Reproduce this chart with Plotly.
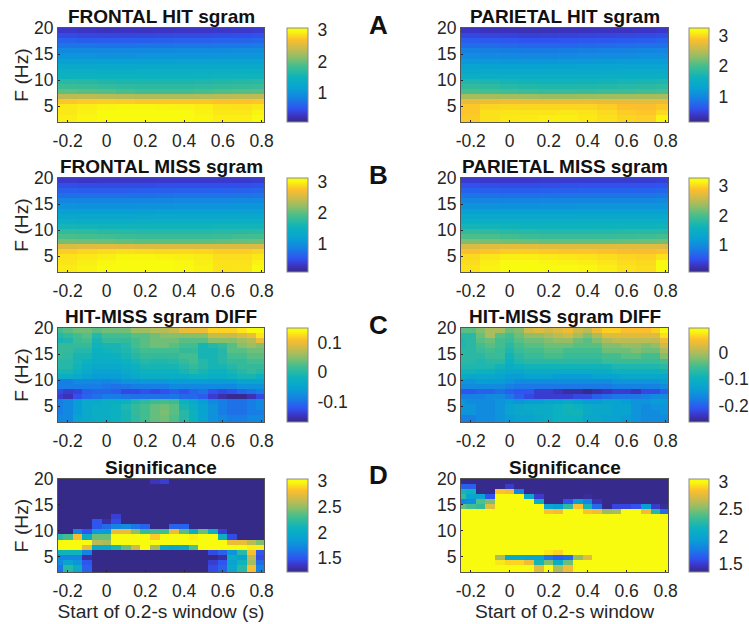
import plotly.graph_objects as go

TIMES = [-0.25,-0.2,-0.15,-0.1,-0.05,0,0.05,0.1,0.15,0.2,0.25,0.3,0.35,0.4,0.45,0.5,0.55,0.6,0.65,0.7,0.75,0.8]
COARSE = [-0.2,-0.1,0,0.1,0.2,0.3,0.4,0.5,0.6,0.7,0.8]
FREQS = [19.53,18.55,17.58,16.6,15.63,14.65,13.67,12.7,11.72,10.74,9.77,8.79,7.81,6.84,5.86,4.88,3.91,2.93,1.95]
X_TICKS = [-0.2,0,0.2,0.4,0.6,0.8]
X_LABELS = ["-0.2","0","0.2","0.4","0.6","0.8"]
Y_TICKS = [5,10,15,20]

FRONTAL_HIT = [
[.33,.31,.29,.3,.3,.31,.32,.32,.33,.34,.36],
[.46,.44,.43,.43,.44,.45,.46,.46,.47,.48,.5],
[.62,.6,.59,.59,.6,.61,.62,.62,.63,.64,.66],
[.76,.75,.74,.74,.75,.76,.77,.77,.78,.79,.8],
[.92,.91,.9,.9,.91,.92,.93,.93,.94,.95,.96],
[1.03,1.02,1.01,1.01,1.02,1.03,1.04,1.04,1.05,1.05,1.06],
[1.17,1.16,1.15,1.15,1.16,1.17,1.18,1.18,1.18,1.19,1.19],
[1.3,1.29,1.28,1.28,1.29,1.3,1.3,1.3,1.3,1.31,1.31],
[1.41,1.4,1.39,1.39,1.4,1.4,1.4,1.4,1.41,1.42,1.42],
[1.5,1.49,1.48,1.48,1.48,1.49,1.49,1.5,1.51,1.52,1.52],
[1.68,1.66,1.63,1.6,1.6,1.6,1.6,1.62,1.64,1.66,1.68],
[1.8,1.78,1.75,1.72,1.7,1.7,1.7,1.72,1.74,1.76,1.78],
[1.97,1.95,1.92,1.88,1.85,1.85,1.85,1.87,1.9,1.92,1.94],
[2.35,2.35,2.33,2.3,2.28,2.28,2.28,2.3,2.33,2.35,2.35],
[2.72,2.74,2.75,2.74,2.72,2.72,2.72,2.72,2.7,2.7,2.72],
[2.88,2.9,2.93,2.94,2.94,2.93,2.92,2.9,2.85,2.84,2.88],
[2.88,2.92,2.97,3.0,3.0,2.99,2.96,2.92,2.88,2.88,2.93],
[2.9,2.94,2.98,3.02,3.04,3.02,2.98,2.94,2.9,2.9,2.96],
[2.9,2.94,2.98,3.02,3.04,3.02,2.98,2.94,2.9,2.9,2.96]]

PARIETAL_HIT = [
[.38,.36,.34,.33,.34,.35,.36,.37,.37,.38,.4],
[.52,.5,.48,.46,.47,.48,.49,.5,.51,.53,.55],
[.67,.65,.63,.6,.6,.61,.63,.64,.66,.68,.7],
[.79,.78,.76,.74,.74,.75,.77,.78,.8,.82,.83],
[.93,.92,.9,.89,.89,.9,.92,.93,.95,.97,.98],
[1.05,1.04,1.03,1.02,1.02,1.03,1.05,1.06,1.07,1.09,1.09],
[1.18,1.17,1.16,1.16,1.16,1.17,1.18,1.19,1.2,1.21,1.21],
[1.32,1.31,1.3,1.3,1.3,1.31,1.32,1.32,1.33,1.33,1.33],
[1.43,1.42,1.41,1.41,1.42,1.42,1.42,1.43,1.44,1.44,1.45],
[1.54,1.54,1.53,1.52,1.52,1.52,1.53,1.54,1.55,1.56,1.56],
[1.74,1.72,1.68,1.65,1.64,1.64,1.65,1.66,1.68,1.7,1.72],
[1.88,1.85,1.8,1.77,1.76,1.76,1.76,1.78,1.8,1.82,1.84],
[2.03,2.0,1.97,1.94,1.92,1.92,1.93,1.94,1.96,1.98,2.0],
[2.42,2.42,2.4,2.38,2.36,2.36,2.37,2.38,2.4,2.42,2.42],
[2.75,2.78,2.8,2.78,2.78,2.78,2.78,2.76,2.73,2.72,2.76],
[2.9,2.97,2.99,2.98,2.98,2.97,2.97,2.94,2.87,2.85,2.9],
[2.9,3.03,3.05,3.05,3.05,3.07,3.05,3.0,2.94,2.9,3.0],
[2.93,3.03,3.07,3.08,3.1,3.1,3.07,3.03,2.98,2.95,3.13],
[2.93,3.03,3.07,3.08,3.1,3.1,3.07,3.03,2.98,2.95,3.13]]

FRONTAL_MISS = [
[.32,.3,.31,.31,.31,.32,.33,.33,.33,.33,.35],
[.46,.44,.44,.44,.45,.46,.47,.47,.47,.47,.49],
[.6,.58,.58,.58,.59,.6,.61,.61,.61,.61,.63],
[.72,.71,.71,.71,.72,.73,.74,.74,.74,.75,.76],
[.88,.87,.87,.87,.88,.89,.9,.9,.9,.91,.92],
[1.01,1.0,1.0,1.0,1.01,1.02,1.03,1.03,1.03,1.04,1.05],
[1.15,1.14,1.14,1.14,1.15,1.16,1.16,1.16,1.16,1.17,1.17],
[1.29,1.28,1.28,1.28,1.29,1.3,1.3,1.3,1.3,1.3,1.3],
[1.42,1.41,1.41,1.41,1.42,1.42,1.42,1.42,1.42,1.42,1.42],
[1.56,1.55,1.54,1.54,1.54,1.54,1.54,1.54,1.55,1.55,1.55],
[1.76,1.74,1.72,1.7,1.69,1.68,1.68,1.68,1.7,1.72,1.73],
[1.92,1.9,1.87,1.84,1.82,1.82,1.82,1.82,1.84,1.87,1.88],
[2.1,2.08,2.06,2.03,2.0,2.0,2.0,2.0,2.02,2.04,2.06],
[2.56,2.58,2.6,2.58,2.56,2.56,2.56,2.56,2.56,2.56,2.55],
[2.82,2.85,2.88,2.9,2.88,2.87,2.87,2.85,2.82,2.82,2.85],
[2.92,2.95,2.98,3.02,3.02,3.0,2.98,2.96,2.9,2.9,2.95],
[2.94,2.98,3.02,3.08,3.08,3.05,3.02,2.98,2.92,2.92,3.0],
[2.96,3.0,3.04,3.1,3.1,3.07,3.03,3.0,2.92,2.94,3.06],
[2.96,3.0,3.04,3.1,3.1,3.07,3.03,3.0,2.92,2.94,3.06]]

PARIETAL_MISS = [
[.38,.36,.36,.36,.37,.38,.39,.39,.39,.39,.41],
[.53,.51,.5,.5,.51,.52,.53,.53,.53,.53,.55],
[.66,.64,.63,.63,.64,.65,.66,.66,.66,.66,.68],
[.8,.78,.77,.77,.78,.79,.8,.8,.8,.8,.82],
[.95,.94,.93,.93,.94,.95,.96,.96,.96,.96,.98],
[1.08,1.07,1.06,1.06,1.07,1.08,1.09,1.09,1.09,1.09,1.1],
[1.24,1.23,1.22,1.22,1.22,1.23,1.24,1.24,1.24,1.24,1.24],
[1.38,1.37,1.37,1.38,1.38,1.38,1.38,1.38,1.38,1.38,1.38],
[1.52,1.51,1.5,1.5,1.5,1.5,1.5,1.5,1.5,1.5,1.5],
[1.64,1.63,1.62,1.6,1.6,1.58,1.58,1.6,1.6,1.6,1.62],
[1.86,1.84,1.8,1.78,1.76,1.76,1.76,1.76,1.78,1.78,1.8],
[2.02,2.0,1.96,1.92,1.9,1.9,1.9,1.9,1.92,1.94,1.96],
[2.22,2.2,2.18,2.15,2.12,2.12,2.12,2.12,2.14,2.16,2.18],
[2.66,2.7,2.72,2.72,2.7,2.7,2.7,2.7,2.7,2.7,2.68],
[2.86,2.9,2.94,2.94,2.92,2.9,2.9,2.88,2.84,2.84,2.88],
[3.0,3.06,3.1,3.1,3.08,3.06,3.04,3.02,2.98,2.96,3.04],
[3.02,3.1,3.16,3.16,3.14,3.12,3.1,3.06,3.02,3.0,3.16],
[3.04,3.12,3.18,3.2,3.18,3.16,3.14,3.1,3.04,3.02,3.24],
[3.04,3.12,3.18,3.2,3.18,3.16,3.14,3.1,3.04,3.02,3.24]]

FRONTAL_DIFF = [
[.02,.03,.04,.04,.03,.04,.04,.04,.06,.06,.07,.07,.08,.1,.1,.1,.12,.12,.12,.13,.15,.15],
[.0,.01,.02,.03,.0,.02,.02,.02,.03,.03,.04,.05,.05,.05,.05,.05,.08,.08,.08,.09,.1,.13],
[-.01,-.005,.015,.02,-.01,.01,.01,.01,.02,.03,.04,.04,.04,.03,.03,.03,.05,.05,.05,.06,.07,.1],
[.01,.01,.01,.01,-.015,-.01,-.01,.0,.02,.03,.04,.04,.03,.02,.02,-.01,.0,.01,.03,.05,.06,.05],
[.01,.01,.0,.0,-.02,-.015,-.01,-.005,.01,.02,.02,.02,.02,.01,.01,-.01,-.01,.0,.03,.03,.04,.04],
[.01,.005,-.01,-.01,-.025,-.025,-.02,-.01,.0,.01,.01,.01,.01,.02,.02,-.01,-.01,.0,.02,.02,.03,.03],
[.0,.0,-.01,-.02,-.03,-.03,-.03,-.02,-.01,.0,-.005,-.005,.0,.01,.02,.0,-.01,.0,.01,.01,.02,.02],
[.0,.0,-.015,-.03,-.04,-.04,-.04,-.03,-.02,-.01,-.01,-.01,-.01,.0,.01,.0,-.01,-.01,.0,.01,.01,.01],
[-.01,-.01,-.02,-.04,-.05,-.05,-.05,-.04,-.03,-.02,-.02,-.02,-.02,-.01,.0,-.01,-.02,-.02,-.01,.0,.01,.0],
[-.03,-.03,-.04,-.05,-.06,-.06,-.06,-.05,-.04,-.03,-.03,-.03,-.03,-.03,-.02,-.02,-.03,-.03,-.02,-.01,-.01,-.02],
[-.09,-.09,-.08,-.08,-.08,-.085,-.08,-.07,-.07,-.065,-.065,-.065,-.06,-.06,-.06,-.06,-.06,-.06,-.06,-.05,-.05,-.05],
[-.09,-.09,-.09,-.09,-.09,-.095,-.1,-.095,-.09,-.09,-.09,-.09,-.08,-.08,-.08,-.08,-.08,-.08,-.08,-.07,-.07,-.07],
[-.13,-.14,-.135,-.115,-.11,-.11,-.115,-.13,-.13,-.125,-.13,-.125,-.115,-.125,-.11,-.1,-.125,-.13,-.125,-.11,-.1,-.09],
[-.14,-.15,-.125,-.11,-.1,-.09,-.09,-.095,-.1,-.1,-.1,-.1,-.095,-.105,-.105,-.115,-.14,-.155,-.165,-.165,-.15,-.13],
[-.09,-.08,-.06,-.04,-.04,-.03,-.03,-.02,-.005,.005,.015,.02,.015,-.02,-.04,-.06,-.08,-.09,-.1,-.1,-.09,-.08],
[-.09,-.08,-.06,-.04,-.03,-.03,-.02,-.005,.01,.02,.035,.04,.03,-.01,-.03,-.05,-.07,-.09,-.1,-.1,-.09,-.08],
[-.09,-.08,-.06,-.04,-.03,-.03,-.02,-.01,.01,.02,.035,.045,.03,.0,-.02,-.05,-.07,-.09,-.1,-.1,-.09,-.09],
[-.08,-.08,-.05,-.04,-.03,-.03,-.02,-.01,.005,.02,.035,.04,.025,.0,-.02,-.05,-.07,-.08,-.09,-.09,-.08,-.08],
[-.08,-.08,-.05,-.04,-.03,-.03,-.02,-.01,.005,.02,.035,.04,.025,.0,-.02,-.05,-.07,-.08,-.09,-.09,-.08,-.08]]

PARIETAL_DIFF = [
[-.04,-.04,-.02,.0,.0,-.03,-.02,.02,.03,.02,.03,.04,.02,.01,.04,.06,.06,.05,.05,.05,.06,.09],
[-.07,-.07,-.03,.0,-.04,-.05,-.03,-.01,-.01,.0,.01,.02,.0,-.02,.0,.03,.03,.03,.03,.03,.03,.07],
[-.08,-.07,-.04,-.03,-.05,-.06,-.04,-.03,-.03,-.02,-.01,-.01,-.03,-.04,-.02,.0,.01,.01,.01,.01,.01,.04],
[-.08,-.07,-.05,-.04,-.05,-.07,-.05,-.04,-.04,-.03,-.03,-.03,-.04,-.04,-.04,-.02,-.02,-.01,-.01,-.02,-.01,.02],
[-.07,-.07,-.06,-.05,-.06,-.08,-.06,-.05,-.05,-.04,-.04,-.05,-.05,-.05,-.05,-.03,-.03,-.03,-.02,-.03,-.03,.0],
[-.07,-.07,-.07,-.06,-.06,-.09,-.07,-.06,-.06,-.05,-.05,-.06,-.06,-.06,-.06,-.05,-.05,-.04,-.04,-.05,-.05,-.02],
[-.07,-.07,-.08,-.07,-.07,-.1,-.08,-.07,-.07,-.07,-.07,-.07,-.07,-.07,-.07,-.06,-.06,-.06,-.06,-.06,-.06,-.05],
[-.08,-.08,-.08,-.08,-.09,-.11,-.1,-.09,-.09,-.09,-.09,-.09,-.09,-.09,-.09,-.09,-.08,-.08,-.08,-.08,-.08,-.07],
[-.09,-.09,-.1,-.1,-.11,-.12,-.12,-.11,-.11,-.11,-.11,-.11,-.11,-.11,-.11,-.11,-.1,-.1,-.1,-.1,-.1,-.09],
[-.11,-.12,-.12,-.12,-.13,-.14,-.14,-.13,-.13,-.13,-.14,-.14,-.14,-.14,-.13,-.13,-.13,-.12,-.12,-.12,-.12,-.12],
[-.15,-.15,-.14,-.14,-.14,-.15,-.16,-.16,-.16,-.16,-.16,-.16,-.16,-.16,-.16,-.16,-.15,-.15,-.15,-.15,-.15,-.14],
[-.16,-.16,-.16,-.16,-.16,-.17,-.18,-.18,-.18,-.18,-.18,-.18,-.18,-.18,-.18,-.18,-.17,-.17,-.17,-.17,-.17,-.16],
[-.21,-.21,-.2,-.2,-.19,-.2,-.21,-.21,-.23,-.23,-.24,-.25,-.25,-.26,-.25,-.24,-.23,-.23,-.24,-.22,-.22,-.2],
[-.17,-.17,-.17,-.16,-.16,-.18,-.2,-.22,-.23,-.23,-.23,-.23,-.22,-.22,-.2,-.19,-.18,-.18,-.18,-.17,-.16,-.16],
[-.15,-.16,-.16,-.16,-.15,-.14,-.15,-.14,-.14,-.13,-.13,-.12,-.13,-.14,-.14,-.13,-.13,-.14,-.15,-.15,-.14,-.14],
[-.15,-.15,-.16,-.16,-.15,-.13,-.12,-.11,-.11,-.11,-.1,-.09,-.1,-.11,-.12,-.12,-.13,-.13,-.15,-.16,-.15,-.15],
[-.15,-.15,-.16,-.16,-.15,-.13,-.12,-.12,-.11,-.11,-.1,-.09,-.09,-.11,-.12,-.12,-.13,-.13,-.15,-.16,-.16,-.15],
[-.17,-.17,-.16,-.16,-.15,-.14,-.13,-.13,-.12,-.11,-.1,-.1,-.1,-.12,-.12,-.13,-.13,-.14,-.15,-.16,-.16,-.16],
[-.17,-.17,-.16,-.16,-.15,-.14,-.13,-.13,-.12,-.11,-.1,-.1,-.1,-.12,-.12,-.13,-.13,-.14,-.15,-.16,-.16,-.16]]

FRONTAL_SIG = [
[1.23,1.23,1.23,1.23,1.23,1.23,1.23,1.23,1.23,1.23,1.35,1.4,1.23,1.23,1.23,1.23,1.23,1.23,1.23,1.23,1.23,1.23],
[1.23]*22,[1.23]*22,[1.23]*22,[1.23]*22,[1.23]*22,[1.23]*22,
[1.23,1.23,1.23,1.23,1.23,1.23,1.4,1.23,1.23,1.23,1.23,1.23,1.23,1.23,1.23,1.23,1.23,1.23,1.23,1.23,1.23,1.23],
[1.23,1.23,1.23,1.23,1.5,1.3,1.45,1.23,1.23,1.23,1.23,1.23,1.23,1.23,1.23,1.23,1.23,1.23,1.23,1.23,1.23,1.23],
[1.23,1.23,1.23,1.23,1.5,1.6,1.7,1.75,1.65,1.55,1.23,1.23,1.55,1.55,1.23,1.23,1.23,1.23,1.23,1.23,1.23,1.23],
[1.23,1.23,1.7,1.5,1.85,1.85,2.75,2.75,2.5,2.25,2.3,2.3,2.75,2.35,2.05,2.4,2.05,1.4,1.23,1.23,1.23,1.23],
[2.2,2.3,2.8,2.0,2.4,2.4,3,3,3,3,2.85,3,3,3,2.95,3,3,2.05,1.45,1.23,1.23,1.23],
[3,3,3,3,2.6,2.55,3,3,3,3,3,3,3,3,3,3,3,3,2.75,2.75,2.6,2.45],
[3,3,3,2.75,2.0,2.0,2.15,2.4,2.65,3,2.55,2.0,1.95,2.0,2.35,3,3,3,3,3,2.95,2.95],
[2.1,2.1,2.1,1.7,1.23,1.23,1.23,1.23,1.23,1.23,1.23,1.23,1.23,1.23,1.23,1.23,1.45,1.55,1.8,2.2,2.8,1.5],
[1.7,1.7,1.7,1.3,1.23,1.23,1.23,1.23,1.23,1.23,1.23,1.23,1.23,1.23,1.23,1.23,1.23,1.3,2.0,1.9,2.6,1.45],
[1.75,1.9,1.8,1.5,1.23,1.23,1.23,1.23,1.23,1.23,1.23,1.23,1.23,1.23,1.23,1.23,1.4,1.5,1.9,2.1,2.55,1.6],
[1.65,2.2,2.0,1.55,1.23,1.23,1.23,1.23,1.23,1.23,1.23,1.23,1.23,1.23,1.23,1.23,1.45,1.55,1.95,2.2,2.8,1.7],
[1.6,2.2,2.0,1.55,1.23,1.23,1.23,1.23,1.23,1.23,1.23,1.23,1.23,1.23,1.23,1.23,1.45,1.55,1.95,2.2,2.8,1.7]]

PARIETAL_SIG = [
[1.37]*22,
[1.65,1.65,1.37,1.37,1.37,1.5,1.37,1.37,1.37,1.37,1.37,1.37,1.37,1.37,1.37,1.37,1.37,1.37,1.37,1.37,1.37,1.37],
[2.2,2.15,1.37,1.37,2.85,2.8,1.8,1.37,1.37,1.37,1.37,1.37,1.37,1.37,1.37,1.37,1.37,1.37,1.37,1.37,1.37,1.37],
[2.3,2.0,2.0,1.6,3,3,3,2.05,1.5,1.37,1.37,1.37,1.37,1.4,1.37,1.37,1.37,1.37,1.37,1.37,1.37,1.37],
[1.8,1.85,2.4,2.5,3,3,3,3,2.1,1.37,1.37,1.6,1.95,1.8,1.45,1.37,1.37,1.37,1.37,1.37,1.37,1.37],
[2.45,2.35,2.3,2.75,3,3,3,3,3,2.0,1.95,2.3,2.85,2.2,1.7,1.37,1.55,1.55,1.6,1.95,1.5,1.4],
[3,3,3,3,3,3,3,3,3,2.85,2.8,3,3,2.85,2.8,2.55,2.6,3,3,2.8,2.25,1.7],
[3]*22,[3]*22,[3]*22,[3]*22,[3]*22,[3]*22,[3]*22,
[3,3,3,3,3,3,3,3,3,2.95,2.9,3,3,3,3,3,3,3,3,3,3,3],
[3,3,3,3,2.6,2.05,2.05,2.0,2.0,1.75,1.65,1.7,2.55,2.75,3,3,3,3,3,3,3,3],
[3,3,3,3,2.95,2.9,2.9,2.8,2.2,2.5,2.1,2.45,3,3,3,3,3,3,3,3,3,3],
[3,3,3,3,3,3,3,3,2.75,3,2.6,2.8,3,3,3,3,3,3,3,3,3,3],
[3,3,3,3,3,3,3,3,2.75,3,2.6,2.8,3,3,3,3,3,3,3,3,3,3]]

PARULA = [[0,"rgb(53,42,135)"],[.07,"rgb(60,52,195)"],[.14,"rgb(48,82,240)"],[.25,"rgb(22,128,228)"],
          [.35,"rgb(8,160,212)"],[.47,"rgb(12,178,190)"],[.6,"rgb(70,190,140)"],[.69,"rgb(140,190,105)"],
          [.77,"rgb(195,187,80)"],[.875,"rgb(253,190,45)"],[.97,"rgb(249,251,14)"],[1,"rgb(249,251,14)"]]

W, H = 749, 624
ROWS = [(28,122),(178,272),(328,422),(479,572)]
COLS = [(58,264,287,21),(461,668,689,20)]
INK = "#262626"
FONT = "Liberation Sans"

panels = [
 ("FRONTAL HIT sgram",FRONTAL_HIT,COARSE,.1,3.05,[1,2,3],["1","2","3"],0,0),
 ("PARIETAL HIT sgram",PARIETAL_HIT,COARSE,.16,3.25,[1,2,3],["1","2","3"],0,1),
 ("FRONTAL MISS sgram",FRONTAL_MISS,COARSE,.07,3.13,[1,2,3],["1","2","3"],1,0),
 ("PARIETAL MISS sgram",PARIETAL_MISS,COARSE,.1,3.26,[1,2,3],["1","2","3"],1,1),
 ("HIT-MISS sgram DIFF",FRONTAL_DIFF,TIMES,-.168,.15,[-.1,0,.1],["-0.1","0","0.1"],2,0),
 ("HIT-MISS sgram DIFF",PARIETAL_DIFF,TIMES,-.262,.095,[-.2,-.1,0],["-0.2","-0.1","0"],2,1),
 ("Significance",FRONTAL_SIG,TIMES,1.23,3.04,[1.5,2,2.5,3],["1.5","2","2.5","3"],3,0),
 ("Significance",PARIETAL_SIG,TIMES,1.36,3.05,[1.5,2,2.5,3],["1.5","2","2.5","3"],3,1),
]

fig = go.Figure()
layout = {}
notes = []
for n,(title,z,xs,zmin,zmax,ct,cl,r,c) in enumerate(panels):
    top,bot = ROWS[r]
    x0,x1,cbx,cbw = COLS[c]
    suffix = "" if n == 0 else str(n+1)
    dom_y = [1-bot/H, 1-top/H]
    fig.add_trace(go.Heatmap(z=z,x=xs,y=FREQS,zmin=zmin,zmax=zmax,colorscale=PARULA,
        xaxis="x"+suffix,yaxis="y"+suffix,hoverinfo="skip",
        colorbar=dict(x=cbx/W,xanchor="left",xpad=0,ypad=0,y=dom_y[0],yanchor="bottom",
            len=(bot-top)/H,lenmode="fraction",thickness=cbw,thicknessmode="pixels",
            outlinecolor="#8c8c8c",outlinewidth=1,tickmode="array",tickvals=ct,ticktext=cl,
            ticks="outside",ticklen=6,tickcolor="rgba(0,0,0,0)",
            tickfont=dict(family=FONT,size=17.5,color=INK))))
    xtitle = None
    if r == 3:
        xtitle = "Start of 0.2-s window (s)" if c == 0 else "Start of 0.2-s window"
    layout["xaxis"+suffix] = dict(domain=[x0/W,x1/W],range=[-0.25,0.812],anchor="y"+suffix,
        tickmode="array",tickvals=X_TICKS,ticktext=X_LABELS,ticks="inside",ticklen=2,tickcolor=INK,
        showgrid=False,zeroline=False,mirror=True,showline=True,linecolor="#555555",linewidth=1,
        ticklabelstandoff=3,
        tickfont=dict(family=FONT,size=17.5,color=INK),
        title=dict(text=xtitle,font=dict(family=FONT,size=19.2,color=INK),standoff=3) if xtitle else None)
    layout["yaxis"+suffix] = dict(domain=dom_y,range=[2,20],anchor="x"+suffix,
        tickmode="array",tickvals=Y_TICKS,ticks="inside",ticklen=2,tickcolor=INK,
        showgrid=False,zeroline=False,mirror=True,showline=True,linecolor="#555555",linewidth=1,
        tickfont=dict(family=FONT,size=17.5,color=INK),
        title=dict(text="F (Hz)",font=dict(family=FONT,size=19.2,color=INK),standoff=0) if c == 0 else None)
    notes.append(dict(text="<b>"+title+"</b>",x=(x0+x1)/2/W,y=1-(top+1)/H,xref="paper",yref="paper",
        xanchor="center",yanchor="bottom",showarrow=False,font=dict(family=FONT,size=19,color="#111111")))

for letter,yy in zip(["A","B","C","D"],[25,175,325,475]):
    notes.append(dict(text="<b>"+letter+"</b>",x=379/W,y=1-yy/H,xref="paper",yref="paper",
        xanchor="center",yanchor="middle",showarrow=False,font=dict(family=FONT,size=26,color="#111111")))

fig.update_layout(width=W,height=H,autosize=False,margin=dict(l=0,r=0,t=0,b=0,autoexpand=False),
    paper_bgcolor="white",plot_bgcolor="white",annotations=notes,**layout)
fig.write_html("out.html",config={"displayModeBar":False},
    post_script="document.body.style.margin='0';document.body.style.overflow='hidden';")
